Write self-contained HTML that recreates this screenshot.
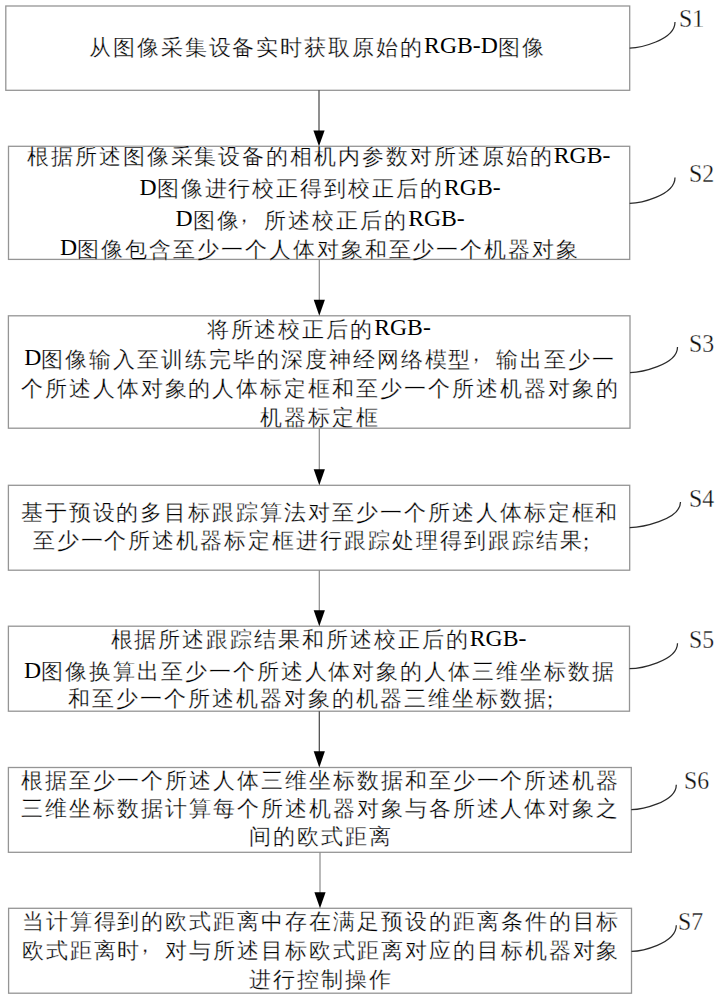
<!DOCTYPE html>
<html><head><meta charset="utf-8"><title>flow</title>
<style>
html,body{margin:0;padding:0;background:#fff;width:720px;height:1000px;overflow:hidden;position:relative}
svg{position:absolute;left:0;top:0}
.t{position:absolute;white-space:nowrap;text-align:center;font-family:"Liberation Serif",serif;font-size:22.00px;line-height:30px;height:30px;color:#000;letter-spacing:1.95px;-webkit-text-stroke:0.30px #fff}
.t b{font-weight:normal;font-size:23.70px;letter-spacing:0;position:relative;top:-1.5px;-webkit-text-stroke:0}
.t i{font-style:normal;position:relative}
.t .c{left:-7.5px;top:-6.0px}
.t .sc{left:-8.0px;top:1.0px}
.s{position:absolute;white-space:nowrap;transform:scaleX(0.950);transform-origin:0 50%;font-family:"Liberation Serif",serif;font-size:25.00px;line-height:30px;color:#111;-webkit-text-stroke:0.30px #fff}
</style></head><body>
<svg width="720" height="1000" viewBox="0 0 720 1000">
<rect x="5.8" y="6.0" width="623.9" height="84.3" fill="none" stroke="#959595" stroke-width="1.30"/>
<rect x="8.5" y="146.3" width="621.2" height="113.1" fill="none" stroke="#959595" stroke-width="1.30"/>
<rect x="8.4" y="315.8" width="621.6" height="112.4" fill="none" stroke="#959595" stroke-width="1.30"/>
<rect x="8.4" y="485.3" width="621.3" height="84.9" fill="none" stroke="#959595" stroke-width="1.30"/>
<rect x="8.4" y="626.2" width="621.1" height="85.0" fill="none" stroke="#959595" stroke-width="1.30"/>
<rect x="8.4" y="767.5" width="622.9" height="84.8" fill="none" stroke="#959595" stroke-width="1.30"/>
<rect x="8.6" y="908.3" width="622.9" height="84.9" fill="none" stroke="#959595" stroke-width="1.30"/>
<line x1="319.0" y1="90.3" x2="319.0" y2="131.4" stroke="#333" stroke-width="1.10"/>
<polygon points="313.4,130.4 324.6,130.4 319.0,146.3" fill="#000"/>
<line x1="319.3" y1="259.4" x2="319.3" y2="300.8" stroke="#8a8a8a" stroke-width="1.20"/>
<polygon points="313.7,299.8 324.9,299.8 319.3,315.8" fill="#000"/>
<line x1="319.3" y1="428.3" x2="319.3" y2="470.2" stroke="#8a8a8a" stroke-width="1.20"/>
<polygon points="313.7,469.2 324.9,469.2 319.3,485.3" fill="#000"/>
<line x1="319.3" y1="570.2" x2="319.3" y2="611.2" stroke="#8a8a8a" stroke-width="1.20"/>
<polygon points="313.7,610.2 324.9,610.2 319.3,626.2" fill="#000"/>
<line x1="319.3" y1="711.2" x2="319.3" y2="752.3" stroke="#444" stroke-width="1.20"/>
<polygon points="313.7,751.3 324.9,751.3 319.3,767.5" fill="#000"/>
<line x1="320.0" y1="852.3" x2="320.0" y2="893.3" stroke="#8a8a8a" stroke-width="1.20"/>
<polygon points="314.4,892.3 325.6,892.3 320.0,908.3" fill="#000"/>
<path d="M629.7,48.0 C638.8,48.0 675.0,40.7 675.0,22.0" fill="none" stroke="#2a2a2a" stroke-width="1.25"/>
<path d="M629.7,203.3 C638.8,203.3 675.0,196.1 675.0,177.5" fill="none" stroke="#2a2a2a" stroke-width="1.25"/>
<path d="M630.0,372.5 C639.5,372.5 677.5,365.4 677.5,347.0" fill="none" stroke="#2a2a2a" stroke-width="1.25"/>
<path d="M629.7,527.5 C639.9,527.5 680.5,520.4 680.5,502.0" fill="none" stroke="#2a2a2a" stroke-width="1.25"/>
<path d="M629.5,668.7 C639.1,668.7 677.5,661.6 677.5,643.3" fill="none" stroke="#2a2a2a" stroke-width="1.25"/>
<path d="M631.3,809.7 C640.3,809.7 676.3,802.7 676.3,784.7" fill="none" stroke="#2a2a2a" stroke-width="1.25"/>
<path d="M631.5,951.3 C640.5,951.3 676.3,944.0 676.3,925.3" fill="none" stroke="#2a2a2a" stroke-width="1.25"/>
</svg>
<div class="t" style="left:5.3px;width:623.9px;top:31.6px">从图像采集设备实时获取原始的<b>RGB-D</b>图像</div>
<div class="t" style="left:8.0px;width:621.2px;top:141.0px">根据所述图像采集设备的相机内参数对所述原始的<b>RGB-</b></div>
<div class="t" style="left:9.5px;width:621.2px;top:173.0px"><b>D</b>图像进行校正得到校正后的<b>RGB-</b></div>
<div class="t" style="left:9.5px;width:621.2px;top:204.7px"><b>D</b>图像<i class="c">，</i>所述校正后的<b>RGB-</b></div>
<div class="t" style="left:9.5px;width:621.2px;top:233.6px"><b>D</b>图像包含至少一个人体对象和至少一个机器对象</div>
<div class="t" style="left:7.9px;width:621.6px;top:313.8px">将所述校正后的<b>RGB-</b></div>
<div class="t" style="left:9.4px;width:621.6px;top:343.8px"><b>D</b>图像输入至训练完毕的深度神经网络模型<i class="c">，</i>输出至少一</div>
<div class="t" style="left:9.4px;width:621.6px;top:374.0px">个所述人体对象的人体标定框和至少一个所述机器对象的</div>
<div class="t" style="left:9.4px;width:621.6px;top:403.0px">机器标定框</div>
<div class="t" style="left:9.4px;width:621.3px;top:498.1px">基于预设的多目标跟踪算法对至少一个所述人体标定框和</div>
<div class="t" style="left:9.4px;width:621.3px;top:526.0px">至少一个所述机器标定框进行跟踪处理得到跟踪结果<i class="sc">；</i></div>
<div class="t" style="left:7.9px;width:621.1px;top:624.1px">根据所述跟踪结果和所述校正后的<b>RGB-</b></div>
<div class="t" style="left:9.4px;width:621.1px;top:656.0px"><b>D</b>图像换算出至少一个所述人体对象的人体三维坐标数据</div>
<div class="t" style="left:9.4px;width:621.1px;top:683.7px">和至少一个所述机器对象的机器三维坐标数据<i class="sc">；</i></div>
<div class="t" style="left:9.4px;width:622.9px;top:766.0px">根据至少一个所述人体三维坐标数据和至少一个所述机器</div>
<div class="t" style="left:9.4px;width:622.9px;top:794.1px">三维坐标数据计算每个所述机器对象与各所述人体对象之</div>
<div class="t" style="left:9.4px;width:622.9px;top:821.5px">间的欧式距离</div>
<div class="t" style="left:9.6px;width:622.9px;top:906.5px">当计算得到的欧式距离中存在满足预设的距离条件的目标</div>
<div class="t" style="left:9.6px;width:622.9px;top:936.3px">欧式距离时<i class="c">，</i>对与所述目标欧式距离对应的目标机器对象</div>
<div class="t" style="left:9.6px;width:622.9px;top:964.5px">进行控制操作</div>
<div class="s" style="left:678.7px;top:3.9px">S1</div>
<div class="s" style="left:689.4px;top:158.6px">S2</div>
<div class="s" style="left:689.4px;top:328.6px">S3</div>
<div class="s" style="left:689.4px;top:483.8px">S4</div>
<div class="s" style="left:689.4px;top:625.1px">S5</div>
<div class="s" style="left:683.5px;top:765.8px">S6</div>
<div class="s" style="left:678.4px;top:906.8px">S7</div>
</body></html>
